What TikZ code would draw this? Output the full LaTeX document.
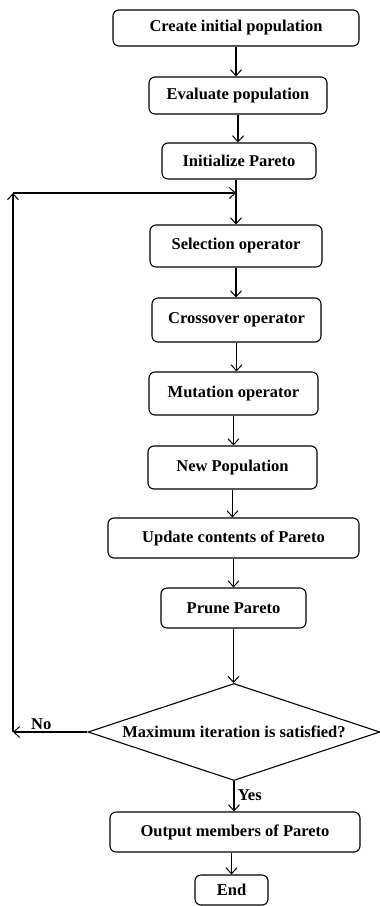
\documentclass[tikz,border=0pt]{standalone}
\usepackage{fontspec}
\setmainfont{Liberation Serif}
\usetikzlibrary{arrows.meta,shapes.geometric}
\begin{document}
\begin{tikzpicture}[x=1pt,y=-1pt,
  txt/.style={font=\bfseries\fontsize{16.5}{18}\selectfont},
  box/.style={draw,rounded corners=6pt,line width=1.1pt,inner sep=0pt,txt},
  arr/.style={line width=1.1pt,-{Straight Barb[length=6pt,width=11pt,line width=1pt]}},
  ln/.style={line width=1.1pt}]
\useasboundingbox (0,0) rectangle (380,906);
\node[box,minimum width=246pt,minimum height=36pt] (b1) at (236,28) {Create initial population};
\node[box,minimum width=178pt,minimum height=37pt] (b2) at (238,95.5) {Evaluate population};
\node[box,minimum width=154pt,minimum height=36pt] (b3) at (239,161) {Initialize Pareto};
\node[box,minimum width=172pt,minimum height=42pt] (b4) at (236,246) {Selection operator};
\node[box,minimum width=169pt,minimum height=44pt] (b5) at (236.5,320) {Crossover operator};
\node[box,minimum width=169pt,minimum height=43pt] (b6) at (233.5,393.5) {Mutation operator};
\node[box,minimum width=169pt,minimum height=43pt] (b7) at (232.5,467.5) {New Population};
\node[box,minimum width=251pt,minimum height=40pt] (b8) at (233.5,538) {Update contents of Pareto};
\node[box,minimum width=145pt,minimum height=40pt] (b9) at (233.5,608) {Prune Pareto};
\node[draw,diamond,aspect=3,line width=1.1pt,inner sep=0pt,minimum width=292pt,minimum height=97pt,txt] (d) at (234,732) {Maximum iteration is satisfied?};
\node[box,minimum width=250pt,minimum height=40pt] (b10) at (235,832) {Output members of Pareto};
\node[box,minimum width=73pt,minimum height=30pt] (b11) at (231.5,890) {End};
\coordinate (j) at (236,193);
\coordinate (cl) at (13,732);
\coordinate (ct) at (13,193);
\draw[arr] (b1.south) -- (b1.south |- b2.north);
\draw[arr] (b2.south) -- (b2.south |- b3.north);
\draw[arr] (b3.south -| j) -- (j |- b4.north);
\draw[arr] (b4.south) -- (b4.south |- b5.north);
\draw[arr] (b5.south) -- (b5.south |- b6.north);
\draw[arr] (b6.south) -- (b6.south |- b7.north);
\draw[arr] (b7.south) -- (b7.south |- b8.north);
\draw[arr] (b8.south) -- (b8.south |- b9.north);
\draw[arr] (b9.south) -- (b9.south |- d.north);
\draw[arr] (d.south) -- (d.south |- b10.north) node[pos=0.45,right=0pt,txt] (yes) {Yes};
\draw[arr] (b10.south -| b11.north) -- (b11.north);
\draw[arr] (d.west) -- (cl) node[pos=0.62,above=-2pt,txt] (no) {No};
\draw[arr] (cl) -- (ct);
\draw[arr] (ct) -- (j);
\end{tikzpicture}
\end{document}
